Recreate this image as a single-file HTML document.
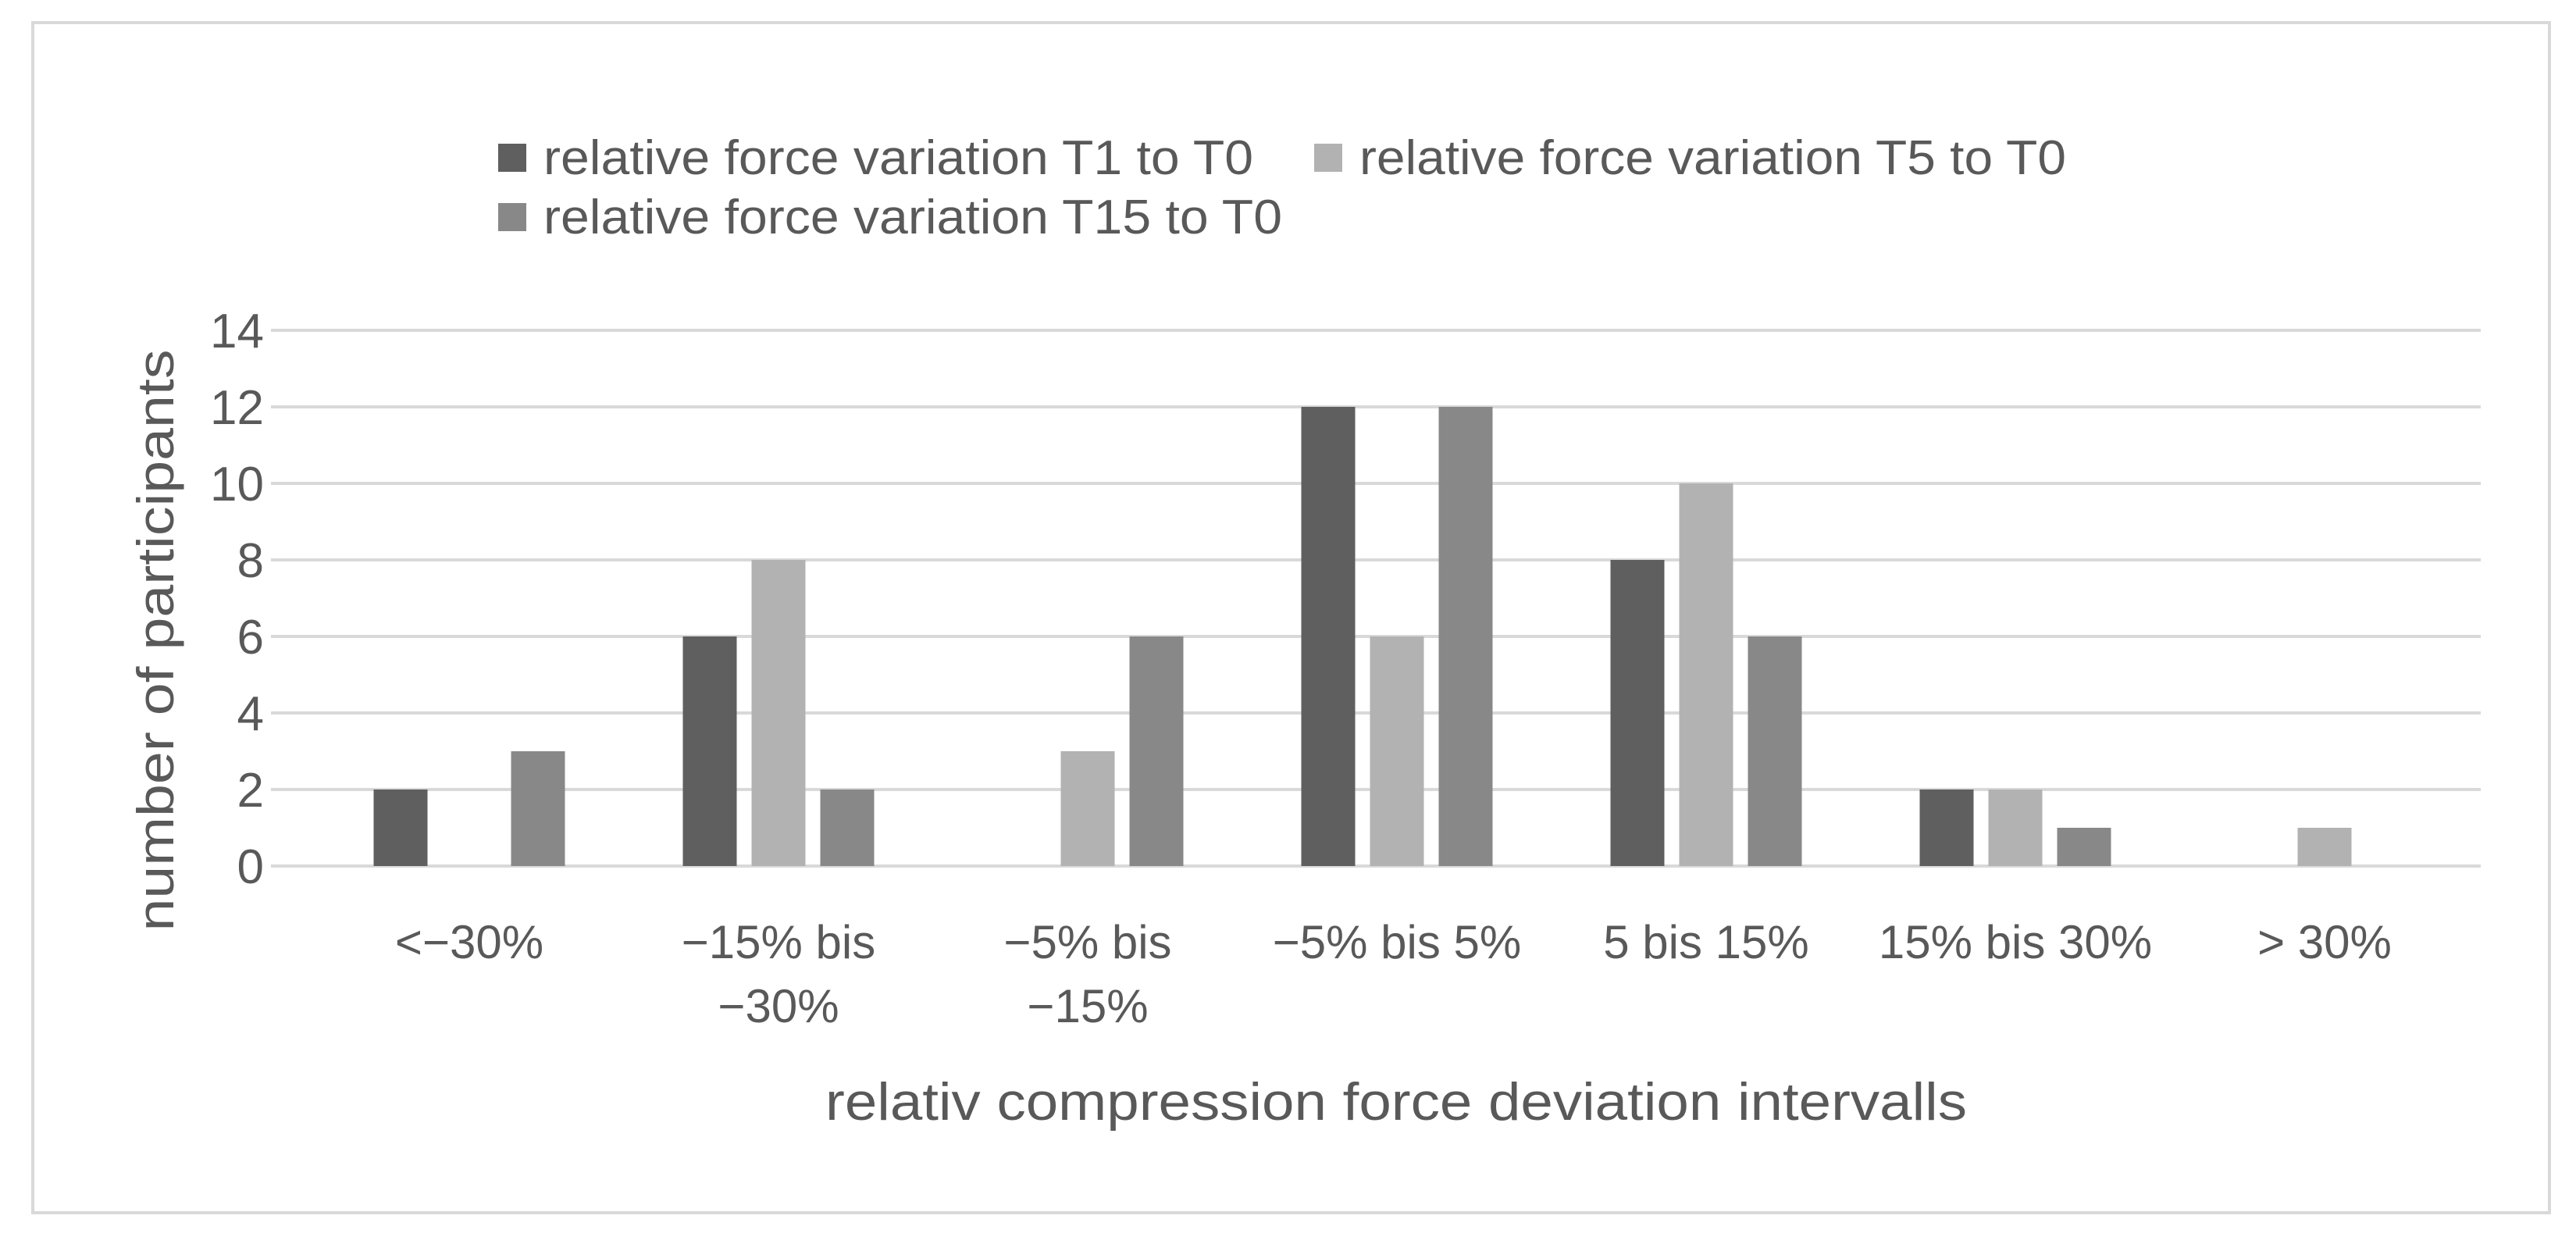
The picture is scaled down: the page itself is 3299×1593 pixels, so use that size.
<!DOCTYPE html>
<html><head><meta charset="utf-8"><style>
html,body{margin:0;padding:0;background:#fff;}
svg{display:block;font-family:"Liberation Sans",sans-serif;}
</style></head><body>
<svg id="chart" width="3299" height="1593" viewBox="0 0 3299 1593">
<rect x="42" y="29" width="3223" height="1524" fill="#fff" stroke="#d9d9d9" stroke-width="4"/>
<g id="grid"></g><g id="bars"></g><g id="labels"></g><g id="legend"></g>
<text transform="translate(222,820) rotate(-90)" text-anchor="middle" font-size="66" fill="#595959" textLength="745" lengthAdjust="spacingAndGlyphs">number of participants</text>
<text x="1788" y="1434" text-anchor="middle" font-size="68" fill="#595959" textLength="1462" lengthAdjust="spacingAndGlyphs">relativ compression force deviation intervalls</text>
</svg>
<script>
const categories=[["<\u221230%"],["\u221215% bis","\u221230%"],["\u22125% bis","\u221215%"],["\u22125% bis 5%"],["5 bis 15%"],["15% bis 30%"],["> 30%"]];
const seriesNames=["relative force variation T1 to T0","relative force variation T5 to T0","relative force variation T15 to T0"];
const t1=[2,6,0,12,8,2,0];
const t5=[0,8,3,6,10,2,1];
const t15=[3,2,6,12,6,1,0];
const yTicks=[0,2,4,6,8,10,12,14];
const series=[t1,t5,t15];
const colors=["#5f5f5f","#b2b2b2","#888888"];
const NS="http://www.w3.org/2000/svg";
const L=347,R=3177,Y0=1109,Y14=423;
const CL=403,CR=3175;
const y=v=>Y0-(v/14)*(Y0-Y14);
const cw=(CR-CL)/categories.length;
const bw=69,gap=19;
function mk(tag,at,parent){const e=document.createElementNS(NS,tag);for(const k in at)e.setAttribute(k,at[k]);document.getElementById(parent).appendChild(e);return e;}
yTicks.forEach(t=>{
 const g=mk("line",{x1:L,x2:R,y1:y(t),y2:y(t),stroke:"#d9d9d9","stroke-width":4},"grid");
 
 
 const tx=mk("text",{x:338,y:y(t)+22,"text-anchor":"end","font-size":62,fill:"#595959"},"labels");
 tx.textContent=t;
 
 
});
categories.forEach((c,i)=>{
 const cx=CL+cw*(i+0.5);
 series.forEach((s,j)=>{
  const x=cx-bw/2+(j-1)*(bw+gap);
  const b=mk("rect",{x:x,y:y(s[i]),width:bw,height:Y0-y(s[i]),fill:colors[j]},"bars");
  
  
 });
 c.forEach((line,k)=>{
  const tx=mk("text",{x:cx,y:1227+k*82,"text-anchor":"middle","font-size":60,fill:"#595959"},"labels");
  tx.textContent=line;
  
  
 });
});
const legPos=[[638,202],[1683,202],[638,278]];
const legLen=[909,905,946];
seriesNames.forEach((n,j)=>{
 const [lx,ly]=legPos[j];
 const sq=mk("rect",{x:lx,y:ly-18,width:36,height:36,fill:colors[j]},"legend");
 
 
 const tx=mk("text",{x:lx+58,y:ly+21,"font-size":62,fill:"#595959",textLength:legLen[j],lengthAdjust:"spacingAndGlyphs"},"legend");
 tx.textContent=n;
 
 
});
</script>
</body></html>
